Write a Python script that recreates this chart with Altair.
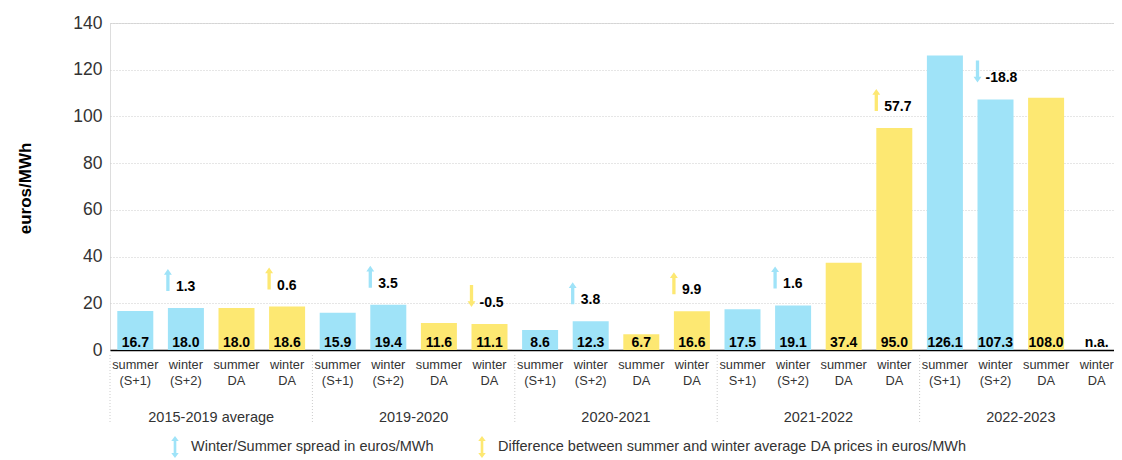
import altair as alt
import pandas as pd

# ---- data ----
groups = ["2015-2019 average", "2019-2020", "2020-2021", "2021-2022", "2022-2023"]
cat_line1 = ["summer", "winter", "summer", "winter"] * 5
cat_line2 = ["(S+1)", "(S+2)", "DA", "DA",
             "(S+1)", "(S+2)", "DA", "DA",
             "(S+1)", "(S+2)", "DA", "DA",
             "S+1)", "(S+2)", "DA", "DA",
             "(S+1)", "(S+2)", "DA", "DA"]
values = [16.7, 18.0, 18.0, 18.6,
          15.9, 19.4, 11.6, 11.1,
          8.6, 12.3, 6.7, 16.6,
          17.5, 19.1, 37.4, 95.0,
          126.1, 107.3, 108.0, None]
deltas = [None, 1.3, None, 0.6,
          None, 3.5, None, -0.5,
          None, 3.8, None, 9.9,
          None, 1.6, None, 57.7,
          None, -18.8, None, None]
kinds = ["fwd", "fwd", "da", "da"] * 5
series_names = ["Winter/Summer spread in euros/MWh",
                "Difference between summer and winter average DA prices in euros/MWh"]
y_ticks = [0, 20, 40, 60, 80, 100, 120, 140]

# ---- styling ----
BLUE = "#9fe3f8"
YELLOW = "#fde872"
FONT = "Liberation Sans, Arial, sans-serif"
UP = "M0,-1L0.36,-0.48L0.15,-0.48L0.15,1L-0.15,1L-0.15,-0.48L-0.36,-0.48Z"
DOWN = "M0,1L0.36,0.48L0.15,0.48L0.15,-1L-0.15,-1L-0.15,0.48L-0.36,0.48Z"
DOUBLE = ("M0,-1L0.34,-0.55L0.12,-0.55L0.12,0.55L0.34,0.55L0,1L-0.34,0.55"
          "L-0.12,0.55L-0.12,-0.55L-0.34,-0.55Z")

rows = []
for i in range(20):
    g = groups[i // 4]
    key = f"{i}|{cat_line1[i]}|{cat_line2[i]}"
    v = values[i]
    d = deltas[i]
    rows.append({
        "key": key,
        "idx": i,
        "group": g,
        "value": v,
        "vlabel": "n.a." if v is None else f"{v:.1f}",
        "delta": d,
        "dlabel": None if d is None else f"{d:.1f}",
        "dir": None if d is None else ("up" if d >= 0 else "down"),
        "series": series_names[0] if kinds[i] == "fwd" else series_names[1],
        "first": i % 4 == 0,
        "mid": i % 4 == 2,
    })
df = pd.DataFrame(rows)
keys = list(df["key"])

W = 1004
H = 327
xscale = alt.Scale(domain=keys, range=[0, 1012], paddingInner=0, paddingOuter=0)
yscale = alt.Scale(domain=[0, 140], nice=False, zero=True)

legend = alt.Legend(
    orient="none", legendX=54, legendY=413, direction="horizontal", title=None,
    symbolType=DOUBLE, symbolSize=484, symbolStrokeWidth=0, symbolOpacity=1,
    labelFont=FONT, labelFontSize=14.5, labelColor="#333", labelLimit=900,
    labelOffset=5, columnPadding=37,
)
color = alt.Color("series:N", scale=alt.Scale(domain=series_names, range=[BLUE, YELLOW]),
                  legend=legend)

base = alt.Chart(df)

x_axis = alt.Axis(
    title=None, labelAngle=0, ticks=False, grid=False, domain=True,
    domainColor="#000", domainWidth=1.5,
    labelFont=FONT, labelFontSize=12.8, labelColor="#333", labelLineHeight=16.5,
    labelPadding=8, labelBaseline="top",
    labelExpr="[split(datum.label, '|')[1], split(datum.label, '|')[2]]",
)
y_axis = alt.Axis(
    title="euros/MWh", values=y_ticks, ticks=False, domain=False,
    grid=True, gridColor="#cccccc", gridDash=[1, 2], gridWidth=1,
    labelFont=FONT, labelFontSize=17.5, labelColor="#333", labelPadding=8,
    titleFont=FONT, titleFontSize=17, titleFontWeight="bold", titleColor="#000",
    titleAngle=270, titleX=-85, titleY=165, titleAlign="center", titleBaseline="middle",
)

bars = base.transform_filter("datum.value != null").mark_bar(size=36).encode(
    x=alt.X("key:N", sort=keys, scale=xscale, axis=x_axis),
    y=alt.Y("value:Q", scale=yscale, axis=y_axis),
    color=color,
)

vlabels = base.mark_text(font=FONT, fontSize=14, fontWeight="bold", color="#000",
                         baseline="alphabetic", dy=-3).encode(
    x=alt.X("key:N", sort=keys, scale=xscale),
    y=alt.datum(0),
    text="vlabel:N",
)

ann = base.transform_filter("datum.delta != null")
arrows = ann.mark_point(filled=True, size=484, opacity=1, strokeWidth=0,
                        xOffset=-18, yOffset=-28).encode(
    x=alt.X("key:N", sort=keys, scale=xscale),
    y=alt.Y("value:Q", scale=yscale),
    shape=alt.Shape("dir:N", scale=alt.Scale(domain=["up", "down"], range=[UP, DOWN]),
                    legend=None),
    color=color,
)
dlabels = ann.mark_text(font=FONT, fontSize=14, fontWeight="bold", color="#000",
                        align="left", baseline="alphabetic", dx=-10, dy=-17).encode(
    x=alt.X("key:N", sort=keys, scale=xscale),
    y=alt.Y("value:Q", scale=yscale),
    text="dlabel:N",
)

seps = base.transform_filter("datum.first").mark_rule(
    color="#cccccc", strokeDash=[1, 2], strokeWidth=1).encode(
    x=alt.X("key:N", sort=keys, scale=xscale, bandPosition=0),
    y=alt.value(332),
    y2=alt.value(400),
)

glabels = base.transform_filter("datum.mid").mark_text(
    font=FONT, fontSize=14.5, color="#333", baseline="middle", align="center").encode(
    x=alt.X("key:N", sort=keys, scale=xscale, bandPosition=0),
    y=alt.value(395),
    text="group:N",
)

chart = alt.layer(bars, vlabels, arrows, dlabels, seps, glabels).properties(
    width=W, height=H,
    autosize=alt.AutoSizeParams(type="none"),
    padding={"left": 102, "top": 15, "right": 0, "bottom": 110},
).configure_view(stroke=None).configure(background="white")

chart.save("out.html", embed_options={"renderer": "svg", "actions": False})
